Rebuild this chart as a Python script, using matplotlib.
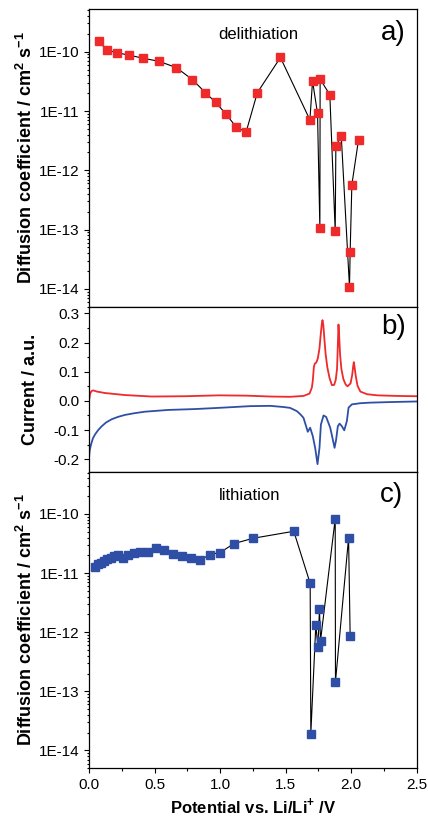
import math
import matplotlib
matplotlib.use("Agg")
import matplotlib.pyplot as plt
from matplotlib.ticker import FixedLocator, FuncFormatter, LogLocator, MultipleLocator, NullFormatter

plt.rcParams['font.family'] = ['Liberation Sans', 'DejaVu Sans']
plt.rcParams['mathtext.fontset'] = 'custom'
plt.rcParams['mathtext.rm'] = 'Liberation Sans'
plt.rcParams['mathtext.bf'] = 'Liberation Sans:bold'

# panel a) delithiation - diffusion coefficient
a_pot = [0.074, 0.137, 0.214, 0.303, 0.409, 0.534, 0.666, 0.788, 0.888, 0.966,
         1.043, 1.122, 1.198, 1.284, 1.46, 1.685, 1.705, 1.743, 1.761, 1.763,
         1.837, 1.878, 1.883, 1.924, 1.987, 1.992, 2.005, 2.056]
a_D = [1.49e-10, 1.07e-10, 9.6e-11, 8.8e-11, 7.8e-11, 6.9e-11, 5.4e-11, 3.4e-11, 2.04e-11, 1.4e-11,
       9.0e-12, 5.4e-12, 4.4e-12, 2.04e-11, 8.0e-11, 7.1e-12, 3.19e-11, 9.2e-12, 1.06e-13, 3.45e-11,
       1.88e-11, 9.3e-14, 2.56e-12, 3.83e-12, 1.07e-14, 4.2e-14, 5.7e-13, 3.3e-12]

# panel b) CV curves
red_x = [0.0, 0.008, 0.02, 0.033, 0.06, 0.122, 0.275, 0.478, 0.733, 0.987,
         1.2, 1.382, 1.534, 1.636, 1.682, 1.7, 1.707, 1.715, 1.722, 1.733,
         1.745, 1.758, 1.768, 1.776, 1.781, 1.787, 1.795, 1.805, 1.818, 1.835,
         1.853, 1.87, 1.882, 1.892, 1.898, 1.903, 1.908, 1.915, 1.925, 1.94,
         1.958, 1.972, 1.995, 2.008, 2.015, 2.02, 2.026, 2.035, 2.048, 2.07,
         2.12, 2.2, 2.35, 2.5]
red_y = [0.0, 0.025, 0.034, 0.036, 0.032, 0.027, 0.02, 0.015, 0.016, 0.019,
         0.018, 0.015, 0.014, 0.017, 0.025, 0.046, 0.069, 0.115, 0.128, 0.131,
         0.145, 0.18, 0.23, 0.265, 0.277, 0.262, 0.215, 0.16, 0.115, 0.078,
         0.054, 0.055, 0.072, 0.11, 0.19, 0.262, 0.225, 0.16, 0.11, 0.075,
         0.056, 0.05, 0.06, 0.09, 0.118, 0.133, 0.115, 0.085, 0.052, 0.032,
         0.023, 0.019, 0.017, 0.016]

blue_x = [0.0, 0.005, 0.015, 0.03, 0.046, 0.07, 0.097, 0.13, 0.173, 0.22,
          0.275, 0.35, 0.427, 0.605, 0.809, 0.987, 1.229, 1.382, 1.483, 1.534,
          1.585, 1.61, 1.636, 1.656, 1.669, 1.687, 1.707, 1.725, 1.743, 1.758,
          1.769, 1.789, 1.809, 1.84, 1.86, 1.873, 1.885, 1.898, 1.911, 1.929,
          1.947, 1.967, 1.98, 2.005, 2.069, 2.145, 2.3, 2.5]
blue_y = [-0.196, -0.17, -0.15, -0.128, -0.115, -0.1, -0.087, -0.074, -0.063, -0.055,
          -0.048, -0.042, -0.037, -0.031, -0.028, -0.024, -0.018, -0.017, -0.021, -0.024,
          -0.035, -0.045, -0.058, -0.087, -0.106, -0.092, -0.121, -0.161, -0.217, -0.161,
          -0.081, -0.05, -0.055, -0.092, -0.133, -0.161, -0.133, -0.087, -0.078, -0.087,
          -0.101, -0.069, -0.023, -0.012, -0.008, -0.006, -0.004, -0.002]

# panel c) lithiation - diffusion coefficient
c_pot = [0.046, 0.066, 0.089, 0.115, 0.14, 0.165, 0.193, 0.224, 0.262, 0.3,
         0.344, 0.389, 0.448, 0.509, 0.575, 0.644, 0.712, 0.779, 0.847, 0.924,
         1.0, 1.106, 1.254, 1.562, 1.687, 1.692, 1.73, 1.746, 1.758, 1.766,
         1.878, 1.88, 1.98, 1.992]
c_D = [1.26e-11, 1.44e-11, 1.51e-11, 1.62e-11, 1.74e-11, 1.83e-11, 1.91e-11, 2.0e-11, 1.81e-11, 2.06e-11,
       2.17e-11, 2.25e-11, 2.25e-11, 2.67e-11, 2.43e-11, 2.11e-11, 1.98e-11, 1.79e-11, 1.66e-11, 2.06e-11,
       2.23e-11, 3.16e-11, 3.89e-11, 5.1e-11, 6.7e-12, 1.92e-14, 1.32e-12, 5.7e-13, 2.43e-12, 7.2e-13,
       8.3e-11, 1.45e-13, 3.94e-11, 8.6e-13]

log_ticks = [1e-14, 1e-13, 1e-12, 1e-11, 1e-10]
red = '#ee2a2a'
blue = '#2f4fa6'

fig = plt.figure(figsize=(4.28, 8.16), dpi=100)
ax_a = fig.add_axes([0.208, 0.6241, 0.7657, 0.3645])
ax_b = fig.add_axes([0.208, 0.4219, 0.7657, 0.2022])
ax_c = fig.add_axes([0.208, 0.0585, 0.7657, 0.3635])


def exp_label(v, pos):
    return "1E%d" % int(round(math.log10(v)))


for ax in (ax_a, ax_b, ax_c):
    ax.set_xlim(0, 2.5)
    ax.tick_params(which='both', direction='out', width=0.8, labelsize=11,
                   top=False, right=False)
    ax.tick_params(which='major', length=3.5)
    ax.tick_params(which='minor', length=1.8)
    for s in ax.spines.values():
        s.set_linewidth(0.9)

for ax in (ax_a, ax_c):
    ax.set_yscale('log')
    ax.set_ylim(5e-15, 5.2e-10)
    ax.yaxis.set_major_locator(FixedLocator(log_ticks))
    ax.yaxis.set_major_formatter(FuncFormatter(exp_label))
    ax.yaxis.set_minor_locator(LogLocator(base=10, subs=range(2, 10), numticks=20))
    ax.yaxis.set_minor_formatter(NullFormatter())
    ax.set_ylabel("Diffusion coefficient / cm$^\\mathbf{2}$ s$^\\mathbf{-1}$",
                  fontsize=13, fontweight='bold')
    ax.yaxis.set_label_coords(-0.162, 0.5)

ax_a.plot(a_pot, a_D, '-', color='black', lw=0.8, zorder=1)
ax_a.plot(a_pot, a_D, 's', color=red, ms=5.5, mec=red, zorder=2)
ax_a.text(0.516, 0.914, "delithiation", transform=ax_a.transAxes, ha='center', va='center', fontsize=12)
ax_a.text(0.928, 0.92, "a)", transform=ax_a.transAxes, ha='center', va='center', fontsize=20)

ax_b.plot(red_x, red_y, '-', color=red, lw=1.3)
ax_b.plot(blue_x, blue_y, '-', color=blue, lw=1.3)
ax_b.set_ylim(-0.243, 0.323)
ax_b.yaxis.set_major_locator(MultipleLocator(0.1))
ax_b.yaxis.set_minor_locator(MultipleLocator(0.05))
ax_b.yaxis.set_major_formatter(FuncFormatter(lambda v, p: ("%.1f" % v).replace("-0.0", "0.0")))
ax_b.set_ylabel("Current / a.u.", fontsize=13, fontweight='bold')
ax_b.yaxis.set_label_coords(-0.152, 0.5)
ax_b.text(0.928, 0.879, "b)", transform=ax_b.transAxes, ha='center', va='center', fontsize=20)

ax_c.plot(c_pot, c_D, '-', color='black', lw=0.8, zorder=1)
ax_c.plot(c_pot, c_D, 's', color=blue, ms=5.5, mec=blue, zorder=2)
ax_c.text(0.489, 0.918, "lithiation", transform=ax_c.transAxes, ha='center', va='center', fontsize=12)
ax_c.text(0.922, 0.921, "c)", transform=ax_c.transAxes, ha='center', va='center', fontsize=20)
ax_c.xaxis.set_major_locator(MultipleLocator(0.5))
ax_c.xaxis.set_minor_locator(MultipleLocator(0.25))
ax_c.set_xlabel("Potential vs. Li/Li$^\\mathbf{+}$ /V", fontsize=12, fontweight='bold')
ax_c.xaxis.set_label_coords(0.5, -0.094)

for ax in (ax_a, ax_b):
    ax.tick_params(axis='x', which='both', bottom=False, labelbottom=False)
    ax.xaxis.set_major_locator(MultipleLocator(0.5))

fig.savefig("out.png", dpi=100)
